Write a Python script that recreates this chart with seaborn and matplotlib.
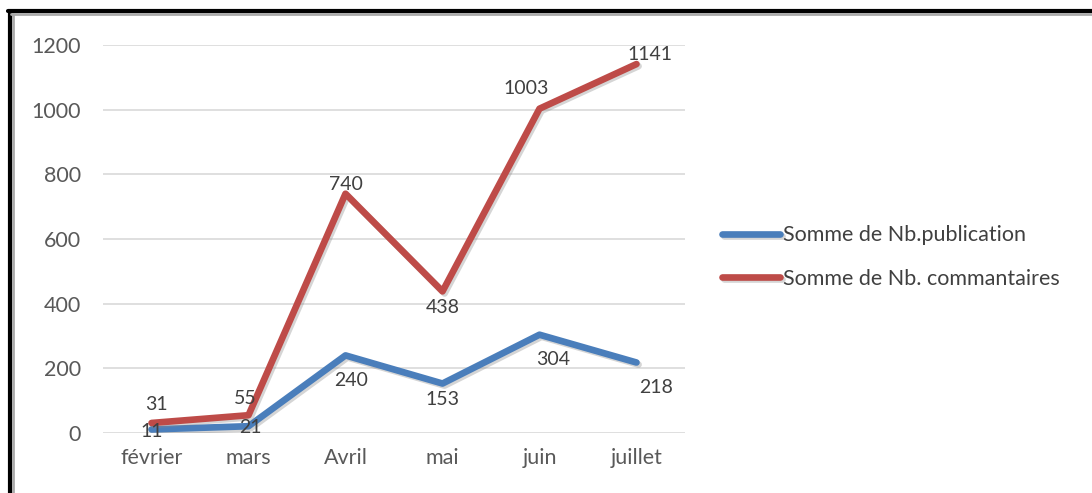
import matplotlib
matplotlib.use("Agg")
import matplotlib.pyplot as plt
import matplotlib.patheffects as pe
from matplotlib.lines import Line2D
import seaborn as sns
import pandas as pd

# Monthly totals
months = ["février", "mars", "Avril", "mai", "juin", "juillet"]
publications = [11, 21, 240, 153, 304, 218]
commentaires = [31, 55, 740, 438, 1003, 1141]
series_names = ["Somme de Nb.publication", "Somme de Nb. commantaires"]
y_ticks = [0, 200, 400, 600, 800, 1000, 1200]

# Label offsets in pixels (dx, dy) for each data label
pub_offsets = [(0, -2), (2, -1), (6, -25), (0, -16), (14, -25), (20, -25)]
com_offsets = [(5, 18), (-3, 17), (0, 9), (0, -16), (-13, 20), (13, 10)]

df = pd.DataFrame({
    "mois": months * 2,
    "valeur": publications + commentaires,
    "serie": [series_names[0]] * len(months) + [series_names[1]] * len(months),
})

sns.set_theme(style="white")
plt.rcParams["font.family"] = ["Lato", "DejaVu Sans"]

W, H = 1092, 493
fig = plt.figure(figsize=(W / 100, H / 100), dpi=100)
fig.patch.set_facecolor("white")
ax = fig.add_axes([103 / W, 1 - 433 / H, 582 / W, 388 / H])

palette = {series_names[0]: "#4A7EBB", series_names[1]: "#BE4B48"}
sns.lineplot(data=df, x="mois", y="valeur", hue="serie", palette=palette,
             linewidth=4.8, sort=False, ax=ax, legend=True,
             solid_capstyle="round", solid_joinstyle="round")

shadow = [pe.SimpleLineShadow(offset=(1.5, -1.5), shadow_color="#888888", alpha=0.35),
          pe.Normal()]
for ln in ax.get_lines():
    ln.set_path_effects(shadow)

ax.set_xlim(-0.5, len(months) - 0.5)
ax.set_ylim(0, 1200)
ax.set_yticks(y_ticks)
ax.set_xlabel("")
ax.set_ylabel("")
ax.grid(axis="y", color="#D9D9D9", linewidth=1.2)
ax.set_axisbelow(True)
for s in ax.spines.values():
    s.set_visible(False)
ax.tick_params(axis="both", length=0, labelsize=15.5, labelcolor="#595959")
ax.tick_params(axis="y", pad=16)
ax.tick_params(axis="x", pad=11)

for vals, offs in ((publications, pub_offsets), (commentaires, com_offsets)):
    for i, (v, (dx, dy)) in enumerate(zip(vals, offs)):
        ax.annotate(str(v), (i, v), xytext=(dx, dy), textcoords="offset pixels",
                    ha="center", va="center", fontsize=14, color="#404040")

handles, labels = ax.get_legend_handles_labels()
ax.legend(handles, labels, loc="center left", bbox_to_anchor=(722 / W, 1 - 257 / H),
          bbox_transform=fig.transFigure, frameon=False, fontsize=15.5,
          handlelength=2.7, handletextpad=0.15, labelspacing=1.1,
          labelcolor="#404040", borderaxespad=0, borderpad=0)

# Frame edges along the top and left
fig.add_artist(Line2D([8 / W, 1], [1 - 11 / H, 1 - 11 / H], transform=fig.transFigure,
                      color="black", linewidth=3))
fig.add_artist(Line2D([9.5 / W, 9.5 / W], [0, 1 - 11 / H], transform=fig.transFigure,
                      color="black", linewidth=3))
fig.add_artist(Line2D([11 / W, 1], [1 - 14 / H, 1 - 14 / H], transform=fig.transFigure,
                      color="#AAAAAA", linewidth=2))
fig.add_artist(Line2D([12.5 / W, 12.5 / W], [0, 1 - 14 / H], transform=fig.transFigure,
                      color="#AAAAAA", linewidth=2))

fig.savefig("out.png", dpi=100)
